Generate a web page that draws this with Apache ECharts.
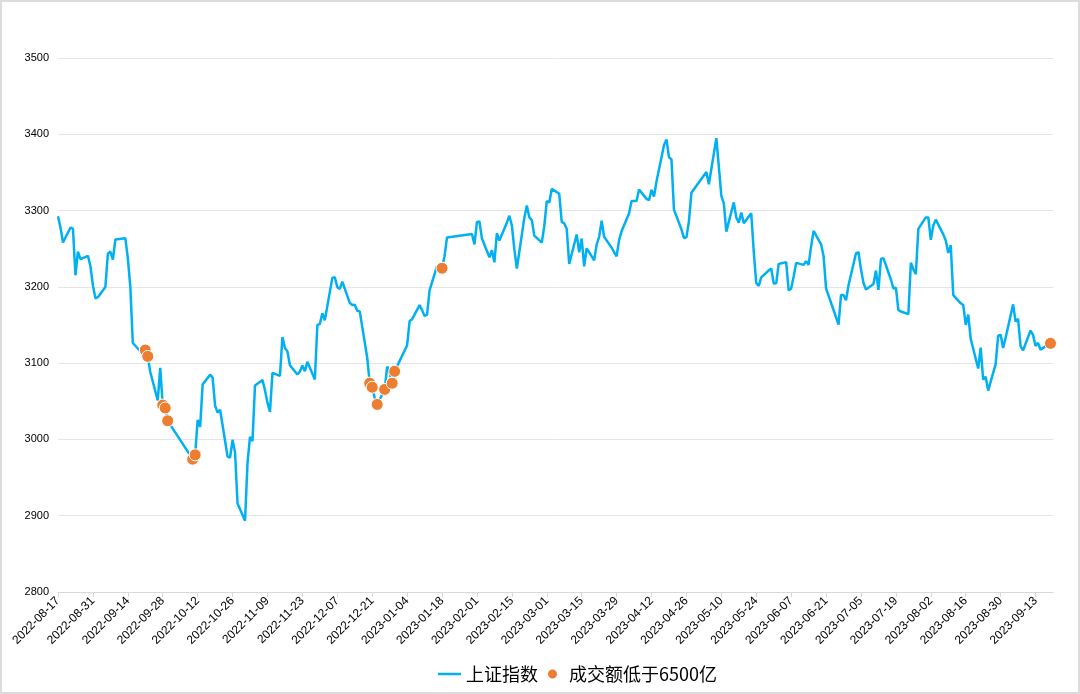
<!DOCTYPE html>
<html>
<head>
<meta charset="utf-8">
<script src="https://cdn.jsdelivr.net/npm/echarts@6/dist/echarts.min.js"></script>
<style>
html,body{margin:0;padding:0;background:#fff;}
#frame{position:absolute;left:0;top:0;width:1076px;height:690px;border:2px solid #dcdcdc;box-sizing:content-box;}
#chart{position:absolute;left:0;top:0;width:1080px;height:694px;}
</style>
</head>
<body>
<div id="frame"></div>
<div id="chart"></div>
<script>
// Axis range (calendar days on the category axis)
const startDate = '2022-08-17';
const endDate = '2023-09-20';
const yTicks = [2800, 2900, 3000, 3100, 3200, 3300, 3400, 3500];

// Trading days and SSE Composite closes
const tradeDates = [
'2022-08-17','2022-08-18','2022-08-19','2022-08-22','2022-08-23','2022-08-24','2022-08-25','2022-08-26','2022-08-29','2022-08-30','2022-08-31',
'2022-09-01','2022-09-02','2022-09-05','2022-09-06','2022-09-07','2022-09-08','2022-09-09','2022-09-13','2022-09-14','2022-09-15','2022-09-16',
'2022-09-19','2022-09-20','2022-09-21','2022-09-22','2022-09-23','2022-09-26','2022-09-27','2022-09-28','2022-09-29','2022-09-30',
'2022-10-10','2022-10-11','2022-10-12','2022-10-13','2022-10-14','2022-10-17','2022-10-18','2022-10-19','2022-10-20','2022-10-21',
'2022-10-24','2022-10-25','2022-10-26','2022-10-27','2022-10-28','2022-10-31',
'2022-11-01','2022-11-02','2022-11-03','2022-11-04','2022-11-07','2022-11-08','2022-11-09','2022-11-10','2022-11-11','2022-11-14',
'2022-11-15','2022-11-16','2022-11-17','2022-11-18','2022-11-21','2022-11-22','2022-11-23','2022-11-24','2022-11-25','2022-11-28','2022-11-29','2022-11-30',
'2022-12-01','2022-12-02','2022-12-05','2022-12-06','2022-12-07','2022-12-08','2022-12-09','2022-12-12','2022-12-13','2022-12-14','2022-12-15','2022-12-16',
'2022-12-19','2022-12-20','2022-12-21','2022-12-22','2022-12-23','2022-12-26','2022-12-27','2022-12-28','2022-12-29','2022-12-30',
'2023-01-03','2023-01-04','2023-01-05','2023-01-06','2023-01-09','2023-01-10','2023-01-11','2023-01-12','2023-01-13','2023-01-16',
'2023-01-17','2023-01-18','2023-01-19','2023-01-20','2023-01-30','2023-01-31',
'2023-02-01','2023-02-02','2023-02-03','2023-02-06','2023-02-07','2023-02-08','2023-02-09','2023-02-10','2023-02-13','2023-02-14',
'2023-02-15','2023-02-16','2023-02-17','2023-02-20','2023-02-21','2023-02-22','2023-02-23','2023-02-24','2023-02-27','2023-02-28',
'2023-03-01','2023-03-02','2023-03-03','2023-03-06','2023-03-07','2023-03-08','2023-03-09','2023-03-10','2023-03-13','2023-03-14',
'2023-03-15','2023-03-16','2023-03-17','2023-03-20','2023-03-21','2023-03-22','2023-03-23','2023-03-24','2023-03-27','2023-03-28',
'2023-03-29','2023-03-30','2023-03-31',
'2023-04-03','2023-04-04','2023-04-06','2023-04-07','2023-04-10','2023-04-11','2023-04-12','2023-04-13','2023-04-14','2023-04-17',
'2023-04-18','2023-04-19','2023-04-20','2023-04-21','2023-04-24','2023-04-25','2023-04-26','2023-04-27','2023-04-28',
'2023-05-04','2023-05-05','2023-05-08','2023-05-09','2023-05-10','2023-05-11','2023-05-12','2023-05-15','2023-05-16','2023-05-17',
'2023-05-18','2023-05-19','2023-05-22','2023-05-23','2023-05-24','2023-05-25','2023-05-26','2023-05-29','2023-05-30','2023-05-31',
'2023-06-01','2023-06-02','2023-06-05','2023-06-06','2023-06-07','2023-06-08','2023-06-09','2023-06-12','2023-06-13','2023-06-14',
'2023-06-15','2023-06-16','2023-06-19','2023-06-20','2023-06-21','2023-06-26','2023-06-27','2023-06-28','2023-06-29','2023-06-30',
'2023-07-03','2023-07-04','2023-07-05','2023-07-06','2023-07-07','2023-07-10','2023-07-11','2023-07-12','2023-07-13','2023-07-14',
'2023-07-17','2023-07-18','2023-07-19','2023-07-20','2023-07-21','2023-07-24','2023-07-25','2023-07-26','2023-07-27','2023-07-28','2023-07-31',
'2023-08-01','2023-08-02','2023-08-03','2023-08-04','2023-08-07','2023-08-08','2023-08-09','2023-08-10','2023-08-11','2023-08-14',
'2023-08-15','2023-08-16','2023-08-17','2023-08-18','2023-08-21','2023-08-22','2023-08-23','2023-08-24','2023-08-25','2023-08-28',
'2023-08-29','2023-08-30','2023-08-31',
'2023-09-01','2023-09-04','2023-09-05','2023-09-06','2023-09-07','2023-09-08','2023-09-11','2023-09-12','2023-09-13','2023-09-14',
'2023-09-15','2023-09-18','2023-09-19'
];
const closeValues = [
3292.53,3277.88,3258.08,3277.79,3276.22,3215.20,3246.25,3236.22,3240.73,3227.22,3202.14,
3184.98,3186.48,3199.91,3243.45,3246.29,3235.59,3262.05,3263.80,3237.54,3199.92,3126.40,
3115.60,3122.41,3117.18,3108.91,3088.37,3051.23,3093.86,3045.07,3041.20,3024.39,
2974.15,2979.79,3025.51,3016.36,3071.99,3084.94,3080.96,3044.38,3035.05,3038.93,
2977.56,2976.28,2999.50,2982.90,2915.93,2893.48,
2969.20,3003.37,2997.81,3070.80,3077.82,3064.49,3048.17,3036.13,3087.29,3083.40,
3134.08,3119.98,3115.43,3097.24,3085.04,3088.94,3096.91,3089.31,3101.69,3078.55,3149.75,3151.34,
3165.47,3156.14,3211.81,3212.53,3199.62,3197.35,3206.95,3179.04,3176.33,3176.53,3168.65,3167.86,
3107.12,3073.77,3068.41,3054.43,3045.87,3065.56,3095.57,3087.40,3073.70,3089.26,
3116.51,3123.52,3155.22,3157.64,3176.08,3169.51,3161.84,3163.45,3195.31,3227.59,
3224.24,3224.41,3240.28,3264.81,3269.32,3255.67,
3284.92,3285.67,3263.41,3238.70,3248.09,3232.11,3270.38,3260.67,3284.16,3293.28,
3280.49,3249.03,3224.02,3290.34,3306.52,3291.15,3287.48,3267.16,3258.03,3279.61,
3312.35,3310.65,3328.39,3322.03,3285.10,3283.25,3276.09,3230.08,3268.70,3245.31,
3263.31,3226.89,3250.55,3234.91,3255.65,3265.65,3286.65,3265.65,3251.40,3245.38,
3240.06,3261.25,3272.86,
3296.40,3312.56,3312.63,3327.65,3315.36,3313.57,3327.18,3318.36,3338.15,3385.61,
3393.33,3370.13,3367.03,3301.26,3275.41,3264.10,3264.87,3285.88,3323.28,
3350.46,3334.50,3395.00,3357.67,3319.15,3309.55,3272.36,3310.74,3290.99,3284.22,
3297.32,3283.54,3296.47,3246.24,3204.75,3201.26,3212.50,3221.45,3224.21,3204.56,
3204.63,3230.07,3232.44,3195.34,3197.76,3213.59,3231.41,3228.83,3233.67,3228.99,
3252.98,3273.33,3255.81,3240.36,3197.90,3150.62,3189.44,3189.38,3182.38,3202.06,
3243.98,3245.35,3222.95,3205.23,3196.61,3203.70,3221.37,3196.13,3236.48,3237.70,
3209.63,3197.82,3198.84,3169.52,3167.75,3164.16,3231.52,3223.13,3216.67,3275.93,3291.04,
3290.95,3261.69,3280.46,3288.08,3268.83,3260.62,3244.49,3254.56,3189.25,3178.43,
3176.18,3150.13,3163.74,3131.95,3092.98,3120.33,3078.40,3082.24,3064.07,3098.64,
3135.89,3137.14,3119.88,
3133.25,3177.06,3154.37,3158.08,3122.35,3116.72,3142.78,3137.06,3122.41,3126.55,
3117.74,3124.25,3125.93
];
// Days with turnover below 650 billion yuan
const lowTurnoverDates = [
'2022-09-21','2022-09-22','2022-09-28','2022-09-29','2022-09-30','2022-10-10','2022-10-11',
'2022-12-20','2022-12-21','2022-12-23','2022-12-26','2022-12-29','2022-12-30',
'2023-01-18','2023-09-19'
];
const seriesNames = ['上证指数', '成交额低于6500亿'];

// Build calendar-day category axis
function fmt(d){ return d.toISOString().slice(0,10); }
const categories = [];
for (let d = new Date(startDate + 'T00:00:00Z'); fmt(d) <= endDate; d.setUTCDate(d.getUTCDate()+1)) {
  categories.push(fmt(d));
}
const closeMap = {};
tradeDates.forEach((t,i)=>{ closeMap[t] = closeValues[i]; });
const lineData = categories.map(c => (c in closeMap) ? closeMap[c] : null);
const lowSet = new Set(lowTurnoverDates);
const scatterData = categories.map(c => lowSet.has(c) ? closeMap[c] : null);

const chart = echarts.init(document.getElementById('chart'), null, {renderer:'canvas'});
chart.setOption({
  backgroundColor: 'transparent',
  animation: false,
  grid: { left: 58, right: 27, top: 58, bottom: 102 },
  legend: {
    bottom: 6,
    left: 433,
    itemWidth: 23,
    itemHeight: 11,
    itemGap: 8,
    textStyle: { color: '#000', fontSize: 18, fontFamily: '"Noto Sans CJK SC", sans-serif' },
    data: [
      { name: seriesNames[0], icon: 'path://M0,0 L24,0 L24,2.6 L0,2.6 Z' },
      { name: seriesNames[1], icon: 'circle' }
    ]
  },
  xAxis: {
    type: 'category',
    data: categories,
    boundaryGap: false,
    axisLine: { lineStyle: { color: '#d9d9d9', width: 1 } },
    axisTick: { interval: 13, length: 5, lineStyle: { color: '#d9d9d9' } },
    axisLabel: {
      interval: 13, rotate: 45, color: '#000', fontSize: 12,
      fontFamily: '"Liberation Sans", Arial, sans-serif', margin: 7
    },
    splitLine: { show: false }
  },
  yAxis: {
    type: 'value',
    min: yTicks[0],
    max: yTicks[yTicks.length-1],
    interval: 100,
    axisLine: { show: false },
    axisTick: { show: false },
    axisLabel: { color: '#000', fontSize: 11, margin: 9, fontFamily: '"Liberation Sans", Arial, sans-serif',
      formatter: v => String(v) },
    splitLine: { lineStyle: { color: '#e5e5e5', width: 1 } }
  },
  series: [
    {
      name: seriesNames[0],
      type: 'line',
      data: lineData,
      connectNulls: true,
      symbol: 'none',
      lineStyle: { color: '#00b0f0', width: 2.5 },
      itemStyle: { color: '#00b0f0' },
      z: 2
    },
    {
      name: seriesNames[1],
      type: 'scatter',
      data: scatterData,
      symbolSize: 12,
      itemStyle: { color: '#ed7d31', opacity: 1, borderColor: '#fff', borderWidth: 1 },
      z: 3
    }
  ]
});
</script>
</body>
</html>
